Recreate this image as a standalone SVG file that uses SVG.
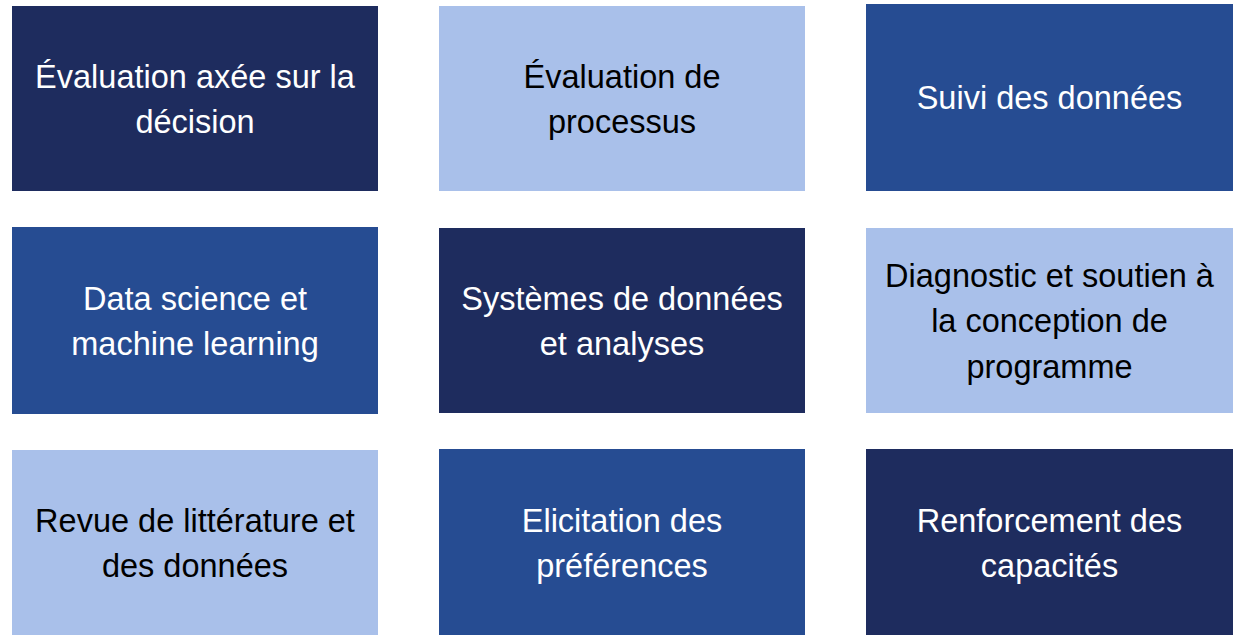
<svg xmlns="http://www.w3.org/2000/svg" width="1240" height="640" viewBox="0 0 1240 640">
<style>
.box{stroke:none}
.dark{fill:#1E2C5E}
.mid{fill:#264C92}
.light{fill:#A9C0EA}
text{font-family:"Liberation Sans",Arial,sans-serif;font-size:32.5px;text-anchor:middle}
.w{fill:#FFFFFF}
.b{fill:#000000}
</style>
<rect width="1240" height="640" fill="#FFFFFF"/>
<g id="n1"><rect class="box dark" x="12" y="6" width="366" height="185"/><text class="w" x="195" y="88">Évaluation axée sur la</text><text class="w" x="195" y="133">décision</text></g>
<g id="n2"><rect class="box light" x="439" y="6" width="366" height="185"/><text class="b" x="622" y="88">Évaluation de</text><text class="b" x="622" y="133">processus</text></g>
<g id="n3"><rect class="box mid" x="866" y="4" width="367" height="187"/><text class="w" x="1049.5" y="109">Suivi des données</text></g>
<g id="n4"><rect class="box mid" x="12" y="227" width="366" height="187"/><text class="w" x="195" y="310">Data science et</text><text class="w" x="195" y="355">machine learning</text></g>
<g id="n5"><rect class="box dark" x="439" y="228" width="366" height="185"/><text class="w" x="622" y="310">Systèmes de données</text><text class="w" x="622" y="355">et analyses</text></g>
<g id="n6"><rect class="box light" x="866" y="228" width="367" height="185"/><text class="b" x="1049.5" y="287">Diagnostic et soutien à</text><text class="b" x="1049.5" y="332">la conception de</text><text class="b" x="1049.5" y="378">programme</text></g>
<g id="n7"><rect class="box light" x="12" y="450" width="366" height="185"/><text class="b" x="195" y="532">Revue de littérature et</text><text class="b" x="195" y="577">des données</text></g>
<g id="n8"><rect class="box mid" x="439" y="449" width="366" height="186"/><text class="w" x="622" y="532">Elicitation des</text><text class="w" x="622" y="577">préférences</text></g>
<g id="n9"><rect class="box dark" x="866" y="449" width="367" height="186"/><text class="w" x="1049.5" y="532">Renforcement des</text><text class="w" x="1049.5" y="577">capacités</text></g>
<g id="connectors"></g>
</svg>
